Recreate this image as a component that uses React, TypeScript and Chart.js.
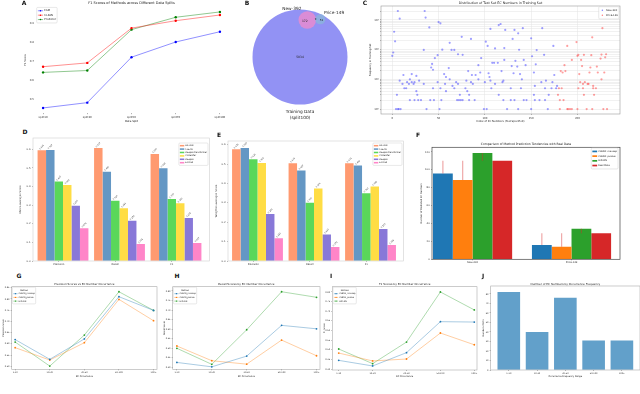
import React, { useEffect, useRef } from "react";
import { Chart, registerables } from "chart.js";

Chart.register(...registerables);

const FONT = "'DejaVu Sans', sans-serif";

// ---------------- DATA ----------------
// A
const splitLabels = ["split10", "split30", "split50", "split70", "split100"];
const aSeriesNames = ["ESM", "CLEAN", "Predictor"];
const aEsm = [0.453, 0.481, 0.72, 0.8, 0.854];
const aClean = [0.67, 0.69, 0.873, 0.912, 0.942];
const aPredictor = [0.64, 0.65, 0.865, 0.93, 0.958];

// B (Venn)
const vennNames = ["Training Data\n(split100)", "New-392", "Price-149"];
const vennTrainOnly = 5034;
const vennNewTrain = 172;
const vennAll = 9;
const vennPriceTrain = 51;

// C
const cNewIdx = [6, 35, 8, 36, 50, 52, 40, 2, 106, 115, 117, 75, 85, 3, 62, 101, 103, 1, 0, 54, 34, 64, 67, 71, 76, 49, 46, 111, 121, 96, 108, 110, 114, 43, 42, 61, 93, 12, 21, 26, 56, 58, 44, 82, 86, 90, 95, 104, 105, 118,
  8, 11, 16, 18, 19, 21, 23, 24, 29, 34, 49, 57, 62, 65, 69, 71, 80, 85, 87, 93, 100, 106, 111, 119,
  13, 15, 26, 44, 52, 58, 67, 79, 81, 107,
  5, 27, 73, 83, 115,
  19, 24, 28, 31, 41, 45, 53, 70, 72, 74, 76, 83, 89,
  4, 6, 7, 9, 37, 51, 99, 102,
  122, 132, 141, 162, 136, 130, 150, 137, 156, 174, 164, 151, 121, 133, 142, 129, 135, 144, 155, 131, 138, 153, 175, 140, 120, 161, 166, 173, 178, 154, 128, 139, 165, 172, 177,
  153, 169,
  120, 128, 132, 142, 145, 154, 159, 165,
  124, 136, 150, 168];
const cNewFreq = [2000, 2000, 1100, 1200, 850, 770, 560, 400, 500, 670, 730, 270, 230, 190, 170, 185, 133, 80, 62, 100, 98, 98, 98, 70, 67, 65, 52, 110, 113, 52, 36, 36, 36, 33, 25, 24, 30, 14, 15, 13, 15, 12, 21, 19, 14, 14, 17, 16, 12, 19,
  9, 7, 8, 7, 10, 8, 7, 8, 9, 7, 8, 7, 10, 6, 8, 7, 9, 8, 7, 10, 8, 9, 7, 8,
  5, 5, 4, 5, 5, 4, 5, 5, 4, 5,
  3, 3, 3, 3, 3,
  2, 2, 2, 2, 2, 2, 2, 2, 2, 2, 2, 2, 2,
  1, 1, 1, 1, 1, 1, 1, 1,
  460, 460, 530, 530, 355, 230, 240, 99, 97, 133, 67, 60, 45, 42, 45, 28, 27, 30, 32, 16, 15, 17, 14, 10, 9, 8, 9, 8, 6, 6, 5, 5, 5, 5, 5,
  3, 3,
  2, 2, 2, 2, 2, 2, 2, 2,
  1, 1, 1, 1];
const cPriceIdx = [227, 216, 189, 199, 226, 231, 201, 207, 215, 200, 194, 204, 225, 230, 186, 205, 214, 221, 182, 184, 187, 202, 213, 222, 229, 203, 206, 211, 212, 217, 226, 208, 180, 183, 201, 206, 217, 220, 179, 207, 218, 181, 185, 181, 189, 190, 192, 194, 200, 210, 216, 228, 232];
const cPriceFreq = [530, 260, 133, 180, 68, 70, 67, 67, 65, 62, 45, 45, 50, 55, 30, 28, 25, 27, 19, 17, 19, 15, 17, 17, 17, 8, 7, 7, 7, 6, 10, 8, 5, 5, 5, 5, 5, 5, 3, 3, 3, 2, 2, 1, 1, 1, 1, 1, 1, 1, 1, 1, 1];
const cSeriesNames = ["New-392", "Price-149"];

// D / E
const metricLabels = ["Precision", "Recall", "F1"];
const methodNames = ["HiFi-NN", "CLEAN", "DeepECtransformer", "ProteInfer", "DeepEC", "ECPred"];
const dHiFi = [0.595, 0.607, 0.575];
const dClean = [0.597, 0.48, 0.499];
const dDeepECT = [0.427, 0.324, 0.333];
const dProteInfer = [0.409, 0.283, 0.31];
const dDeepEC = [0.297, 0.216, 0.231];
const dECPred = [0.176, 0.091, 0.097];
const eHiFi = [0.576, 0.504, 0.504];
const eClean = [0.583, 0.467, 0.492];
const eDeepECT = [0.525, 0.3, 0.35];
const eProteInfer = [0.506, 0.374, 0.384];
const eDeepEC = [0.242, 0.137, 0.165];
const eECPred = [0.117, 0.072, 0.082];

// F
const fGroups = ["New-392", "Price-149"];
const fSeriesNames = ["CLEAN_maxsep", "CLEAN_pvalue", "HiFi-NN", "Real Data"];
const fMaxsep = [95.9, 16];
const fPvalue = [88.5, 14.1];
const fHiFi = [118.6, 34.2];
const fReal = [110, 29];

// G / H / I / J
const occLabels = ["1-10", "10-20", "20-50", "50-100", "100+"];
const occSeriesNames = ["CLEAN_maxsep", "CLEAN_pvalue", "HiFi-NN"];
const gMaxsep = [0.619, 0.531, 0.622, 0.81, 0.749];
const gPvalue = [0.583, 0.528, 0.605, 0.798, 0.703];
const gHiFi = [0.608, 0.501, 0.639, 0.832, 0.749];
const hMaxsep = [0.426, 0.403, 0.459, 0.62, 0.602];
const hPvalue = [0.512, 0.435, 0.417, 0.543, 0.461];
const hHiFi = [0.5, 0.416, 0.597, 0.796, 0.767];
const iMaxsep = [0.445, 0.416, 0.485, 0.646, 0.644];
const iPvalue = [0.483, 0.442, 0.452, 0.587, 0.526];
const iHiFi = [0.504, 0.428, 0.54, 0.8, 0.707];
const jCounts = [82, 40, 76, 31, 31];

// ---------------- HELPERS ----------------
type Box = { l: number; t: number; r: number; b: number };
type G = { left: number; top: number; width: number; height: number; ml: number; mt: number; mr: number; mb: number };

function geom(p: Box, m: Box): G {
  const left = Math.floor(p.l - m.l);
  const top = Math.floor(p.t - m.t);
  const right = Math.ceil(p.r + m.r);
  const bottom = Math.ceil(p.b + m.b);
  return { left, top, width: right - left, height: bottom - top, ml: p.l - left, mt: p.t - top, mr: right - p.r, mb: bottom - p.b };
}

function baseOpts(g: G, title?: { text: string; size: number; y: number }) {
  const plugins: any = { legend: { display: false }, tooltip: { enabled: false } };
  let padTop = 0;
  if (title) {
    const lh = title.size * 1.2;
    const pt = Math.max(0, title.y - g.top - lh / 2);
    const pb = Math.max(0, g.mt - pt - lh);
    plugins.title = {
      display: true, text: title.text, fullSize: false, color: "#222",
      font: { family: FONT, size: title.size, weight: "normal" }, padding: { top: pt, bottom: pb },
    };
  } else {
    padTop = g.mt;
    plugins.title = { display: false };
  }
  return {
    responsive: false, maintainAspectRatio: false, animation: false, devicePixelRatio: 1, events: [],
    layout: { autoPadding: false, padding: { left: 0, top: padTop, right: g.mr, bottom: 0 } },
    plugins,
  };
}

function axis(g: G, dir: "x" | "y", o: any) {
  const tl = o.tickLen ?? 0;
  const sc: any = {
    type: o.type ?? "linear", min: o.min, max: o.max, bounds: "data", offset: false,
    position: dir === "x" ? "bottom" : "left",
    afterBuildTicks: (s: any) => { s.ticks = o.ticks.map((v: number) => ({ value: v })); },
    afterFit: (s: any) => { if (dir === "x") s.height = g.mb; else s.width = g.ml; },
    ticks: {
      callback: (v: any) => o.fmt(Number(v)), font: { family: FONT, size: o.fs }, color: "#333",
      padding: o.tickPad ?? 1, autoSkip: false, maxRotation: 0, minRotation: 0,
    },
    grid: {
      display: true, offset: false, drawOnChartArea: !!o.grid, drawTicks: tl > 0, tickLength: tl,
      color: o.gridColor ?? "#e3e3e3", tickColor: "#666", lineWidth: 0.5, tickWidth: 0.5,
    },
    border: { display: false },
  };
  if (o.title) {
    const fs = o.titleFs ?? o.fs;
    const lh = fs * 1.2;
    const pad = dir === "x"
      ? { top: 0, bottom: Math.max(0, g.top + g.height - o.titleAt - lh / 2) }
      : { top: Math.max(0, o.titleAt - g.left - lh / 2), bottom: 0 };
    sc.title = { display: true, text: o.title, color: "#222", font: { family: FONT, size: fs }, padding: pad };
  }
  return sc;
}

const range = (a: number, b: number, s: number) => {
  const out: number[] = [];
  for (let v = a; v <= b + 1e-9; v += s) out.push(Math.round(v * 1000) / 1000);
  return out;
};

function framePlugin(color: string, lw = 0.6) {
  return {
    id: "frame",
    afterDraw(chart: any) {
      const { ctx, chartArea: a } = chart;
      ctx.save();
      ctx.strokeStyle = color;
      ctx.lineWidth = lw;
      ctx.strokeRect(a.left, a.top, a.right - a.left, a.bottom - a.top);
      ctx.restore();
    },
  };
}

function legendPlugin(o: { corner: "tl" | "tr"; dx: number; dy: number; fs: number; row: number; kind: "rect" | "line" | "point"; title?: string }) {
  return {
    id: "mplLegend",
    afterDraw(chart: any) {
      const { ctx, chartArea: a } = chart;
      const items = chart.data.datasets.filter((d: any) => d.label).map((d: any) => ({ label: d.label, color: d.legendColor || d.backgroundColor, line: d.borderColor }));
      ctx.save();
      ctx.font = `${o.fs}px ${FONT}`;
      const sw = o.fs * 2;
      const gap = o.fs * 0.5;
      const pad = o.fs * 0.45;
      const tw = Math.max(...items.map((i: any) => ctx.measureText(i.label).width));
      const titleW = o.title ? ctx.measureText(o.title).width : 0;
      const innerW = Math.max(sw + gap + tw, titleW);
      const w = innerW + pad * 2;
      const rows = items.length + (o.title ? 1 : 0);
      const h = rows * o.row + pad * 2;
      const x0 = o.corner === "tr" ? a.right - o.dx - w : a.left + o.dx;
      const y0 = a.top + o.dy;
      ctx.beginPath();
      if (ctx.roundRect) ctx.roundRect(x0, y0, w, h, 1); else ctx.rect(x0, y0, w, h);
      ctx.fillStyle = "rgba(255,255,255,0.85)";
      ctx.fill();
      ctx.strokeStyle = "#d0d0d0";
      ctx.lineWidth = 0.5;
      ctx.stroke();
      ctx.textBaseline = "middle";
      let y = y0 + pad + o.row / 2;
      if (o.title) {
        ctx.fillStyle = "#222";
        ctx.textAlign = "center";
        ctx.fillText(o.title, x0 + w / 2, y);
        y += o.row;
      }
      ctx.textAlign = "left";
      items.forEach((it: any) => {
        const sx = x0 + pad;
        if (o.kind === "rect") {
          ctx.fillStyle = it.color;
          ctx.fillRect(sx, y - o.fs * 0.35, sw, o.fs * 0.7);
        } else {
          if (o.kind === "line") {
            ctx.strokeStyle = it.line;
            ctx.lineWidth = 0.8;
            ctx.beginPath();
            ctx.moveTo(sx, y);
            ctx.lineTo(sx + sw, y);
            ctx.stroke();
          }
          ctx.fillStyle = it.color;
          ctx.beginPath();
          ctx.arc(sx + sw / 2, y, o.fs * 0.3, 0, Math.PI * 2);
          ctx.fill();
        }
        ctx.fillStyle = "#222";
        ctx.fillText(it.label, sx + sw + gap, y);
        y += o.row;
      });
      ctx.restore();
    },
  };
}

function barLabelPlugin(fs: number) {
  return {
    id: "barLabels",
    afterDatasetsDraw(chart: any) {
      const ctx = chart.ctx;
      ctx.save();
      ctx.font = `${fs}px ${FONT}`;
      ctx.fillStyle = "#333";
      ctx.textAlign = "center";
      ctx.textBaseline = "middle";
      chart.data.datasets.forEach((ds: any, di: number) => {
        chart.getDatasetMeta(di).data.forEach((el: any, i: number) => {
          const text = Number(ds.data[i].y).toFixed(3);
          const L = ctx.measureText(text).width;
          const half = ((L + fs) * Math.SQRT1_2) / 2;
          ctx.save();
          ctx.translate(el.x, el.y - 0.3 - half);
          ctx.rotate(-Math.PI / 4);
          ctx.fillText(text, 0, 0);
          ctx.restore();
        });
      });
      ctx.restore();
    },
  };
}

const realGapPlugin = {
  id: "realGap",
  afterDatasetsDraw(chart: any) {
    const ctx = chart.ctx;
    const ys = chart.scales.y;
    ctx.save();
    ctx.strokeStyle = "rgba(214,39,40,0.4)";
    ctx.lineWidth = 1.2;
    [0, 1, 2].forEach((di) =>
      chart.getDatasetMeta(di).data.forEach((el: any, i: number) => {
        ctx.beginPath();
        ctx.moveTo(el.x, el.y);
        ctx.lineTo(el.x, ys.getPixelForValue(fReal[i]));
        ctx.stroke();
      })
    );
    ctx.restore();
  },
};

function lineDs(label: string, values: number[], line: string, point: string, r = 1.2, bw = 0.8) {
  return {
    label, data: values.map((y, i) => ({ x: i, y })), borderColor: line, backgroundColor: point,
    pointBackgroundColor: point, pointBorderWidth: 0, pointRadius: r, borderWidth: bw, legendColor: point, tension: 0,
  };
}

function groupedBars(names: string[], arrays: number[][], colors: string[], catPct: number) {
  return arrays.map((arr, j) => ({
    label: names[j], data: arr.map((y, i) => ({ x: i, y })), backgroundColor: colors[j], legendColor: colors[j],
    categoryPercentage: catPct, barPercentage: 1, borderWidth: 0,
  }));
}

// ---------------- PANELS ----------------
const gA = geom({ l: 36, t: 7.2, r: 227, b: 112.7 }, { l: 15, t: 7.2, r: 3, b: 12 });
const gB: G = { left: 240, top: 0, width: 130, height: 126, ml: 0, mt: 0, mr: 0, mb: 0 };
const gC = geom({ l: 381, t: 6, r: 620, b: 114 }, { l: 14, t: 6, r: 2, b: 11 });
const gD = geom({ l: 33, t: 138, r: 209.5, b: 261 }, { l: 15, t: 3, r: 2, b: 6 });
const gE = geom({ l: 228, t: 141, r: 403.3, b: 261 }, { l: 15, t: 4, r: 2, b: 6 });
const gF = geom({ l: 432, t: 147.3, r: 620, b: 259.3 }, { l: 13, t: 6, r: 2, b: 6 });
const gG = geom({ l: 11.7, t: 286.7, r: 157, b: 369.3 }, { l: 11.7, t: 5.7, r: 2, b: 10 });
const gH = geom({ l: 172.7, t: 286.7, r: 320, b: 369.3 }, { l: 11, t: 5.7, r: 2, b: 10 });
const gI = geom({ l: 332.3, t: 286.7, r: 477, b: 370 }, { l: 11, t: 5.7, r: 2, b: 10 });
const gJ = geom({ l: 490.7, t: 286, r: 640, b: 370 }, { l: 10, t: 5, r: 0, b: 10 });

const VENN_PX = 0.6546; // pixels per venn unit
const vennCenter = { x: 60, y: 57 }; // big circle centre inside panel B canvas
const vennLayout = [[0, 0], [11.15, 56.5], [31.0, 57.6]];
const vennColors = ["rgba(146,146,244,1)", "rgba(218,140,214,1)", "rgba(140,176,222,0.95)"];
const methodColors = ["#ff9a70", "#6497c4", "#5ad75a", "#ffdd44", "#8878d8", "#ff85c8"];
const tab = ["#1f77b4", "#ff7f0e", "#2ca02c", "#d62728"];
const tabA = ["rgba(31,119,180,0.55)", "rgba(255,127,14,0.55)", "rgba(44,160,44,0.55)"];

const vennTextPlugin = {
  id: "vennText",
  afterDatasetsDraw(chart: any) {
    const ctx = chart.ctx;
    const [big, nw, pr] = chart.getDatasetMeta(0).data;
    const rB = big.options.radius, rN = nw.options.radius, rP = pr.options.radius;
    const put = (t: string, x: number, y: number, fs: number) => {
      ctx.font = `${fs}px ${FONT}`;
      ctx.fillText(t, x, y);
    };
    ctx.save();
    ctx.fillStyle = "#222";
    ctx.textAlign = "center";
    ctx.textBaseline = "middle";
    put(String(vennTrainOnly), big.x, big.y + 0.5, 3);
    put(String(vennNewTrain), nw.x - 2.5, nw.y + 0.8, 3);
    put(String(vennAll), (nw.x + rN + pr.x - rP) / 2, pr.y + 0.5, 2.6);
    put(String(vennPriceTrain), pr.x + 1.3, pr.y + 0.8, 2.8);
    put(vennNames[1], nw.x - 15.5, nw.y - 10.7, 4.3);
    put(vennNames[2], pr.x + 13.7, pr.y - 6.6, 4.3);
    const lines = vennNames[0].split("\n");
    lines.forEach((ln, k) => put(ln, big.x, big.y + rB + 7 + k * 6, 4.3));
    ctx.restore();
  },
};

const vennTotals = [vennTrainOnly + vennNewTrain + vennAll + vennPriceTrain, vennNewTrain + vennAll, vennPriceTrain + vennAll];

const PANELS: { key: string; g: G; config: () => any }[] = [
  {
    key: "A", g: gA,
    config: () => ({
      type: "line",
      data: {
        datasets: [
          lineDs(aSeriesNames[0], aEsm, "rgba(0,0,255,0.55)", "#0000ff"),
          lineDs(aSeriesNames[1], aClean, "rgba(255,0,0,0.55)", "#ff0000"),
          lineDs(aSeriesNames[2], aPredictor, "rgba(0,128,0,0.55)", "#008000"),
        ],
      },
      options: {
        ...baseOpts(gA, { text: "F1 Scores of Methods across Different Data Splits", size: 3.5, y: 3.3 }),
        scales: {
          x: axis(gA, "x", { min: -0.16, max: 4.16, ticks: [0, 1, 2, 3, 4], fmt: (v: number) => splitLabels[v] ?? "", fs: 2.7, tickLen: 1.5, tickPad: 1.8, title: "Data Split", titleAt: 121.7 }),
          y: axis(gA, "y", { min: 0.428, max: 0.983, ticks: [0.5, 0.6, 0.7, 0.8, 0.9], fmt: (v: number) => v.toFixed(1), fs: 2.7, tickPad: 2, title: "F1 Score", titleAt: 25.5 }),
        },
      },
      plugins: [legendPlugin({ corner: "tl", dx: 0.7, dy: 0.2, fs: 2.6, row: 4.4, kind: "line" })],
    }),
  },
  {
    key: "B", g: gB,
    config: () => ({
      type: "bubble",
      data: {
        datasets: [{
          data: vennLayout.map(([x, y], i) => ({ x, y, r: Math.sqrt(vennTotals[i]) * VENN_PX })),
          backgroundColor: vennColors, borderWidth: 0, clip: false,
        }],
      },
      options: {
        ...baseOpts(gB),
        scales: {
          x: { type: "linear", display: false, bounds: "data", offset: false, min: -vennCenter.x / VENN_PX, max: (gB.width - vennCenter.x) / VENN_PX },
          y: { type: "linear", display: false, bounds: "data", offset: false, min: -(gB.height - vennCenter.y) / VENN_PX, max: vennCenter.y / VENN_PX },
        },
      },
      plugins: [vennTextPlugin],
    }),
  },
  {
    key: "C", g: gC,
    config: () => ({
      type: "scatter",
      data: {
        datasets: [
          { label: cSeriesNames[0], data: cNewIdx.map((x, i) => ({ x, y: cNewFreq[i] })), backgroundColor: "rgba(40,40,255,0.45)", legendColor: "rgba(40,40,255,0.6)", pointRadius: 1.1, borderWidth: 0 },
          { label: cSeriesNames[1], data: cPriceIdx.map((x, i) => ({ x, y: cPriceFreq[i] })), backgroundColor: "rgba(255,40,40,0.45)", legendColor: "rgba(255,40,40,0.6)", pointRadius: 1.1, borderWidth: 0 },
        ],
      },
      options: {
        ...baseOpts(gC, { text: "Distribution of Test Set EC Numbers in Training Set", size: 3.3, y: 2.8 }),
        scales: {
          x: axis(gC, "x", { min: -12.2, max: 246, ticks: [0, 50, 100, 150, 200], fmt: (v: number) => String(v), fs: 2.6, tickLen: 1, tickPad: 1.3, grid: true, title: "Index of EC Numbers (Test Specified)", titleAt: 121.7 }),
          y: axis(gC, "y", {
            type: "logarithmic", min: 0.68, max: 2950,
            ticks: [1, 2, 3, 4, 5, 6, 7, 8, 9, 10, 20, 30, 40, 50, 60, 70, 80, 90, 100, 200, 300, 400, 500, 600, 700, 800, 900, 1000, 2000],
            fmt: (v: number) => (({ 1: "10⁰", 10: "10¹", 100: "10²", 1000: "10³" } as any)[v] ?? ""),
            fs: 2.6, tickLen: 1, tickPad: 1.3, grid: true, title: "Frequency in Training Set", titleAt: 370,
          }),
        },
      },
      plugins: [framePlugin("#999"), legendPlugin({ corner: "tr", dx: 1, dy: 0.7, fs: 2.5, row: 5, kind: "point" })],
    }),
  },
  {
    key: "D", g: gD,
    config: () => ({
      type: "bar",
      data: { datasets: groupedBars(methodNames, [dHiFi, dClean, dDeepECT, dProteInfer, dDeepEC, dECPred], methodColors, 0.9) },
      options: {
        ...baseOpts(gD),
        scales: {
          x: axis(gD, "x", { min: -0.531, max: 2.593, ticks: [-0.075, 0.925, 1.925], fmt: (v: number) => metricLabels[Math.round(v + 0.075)] ?? "", fs: 2.5, tickLen: 1, tickPad: 1 }),
          y: axis(gD, "y", { min: 0, max: 0.661, ticks: range(0, 0.6, 0.1), fmt: (v: number) => v.toFixed(1), fs: 2.5, tickLen: 1, tickPad: 1.5, title: "Macro-averaged Score", titleFs: 2.5, titleAt: 20 }),
        },
      },
      plugins: [barLabelPlugin(2.1), framePlugin("#cfcfcf"), legendPlugin({ corner: "tr", dx: 1.5, dy: 5, fs: 2.2, row: 3.4, kind: "rect" })],
    }),
  },
  {
    key: "E", g: gE,
    config: () => ({
      type: "bar",
      data: { datasets: groupedBars(methodNames, [eHiFi, eClean, eDeepECT, eProteInfer, eDeepEC, eECPred], methodColors, 0.9) },
      options: {
        ...baseOpts(gE),
        scales: {
          x: axis(gE, "x", { min: -0.522, max: 2.58, ticks: [-0.075, 0.925, 1.925], fmt: (v: number) => metricLabels[Math.round(v + 0.075)] ?? "", fs: 2.5, tickLen: 1, tickPad: 1 }),
          y: axis(gE, "y", { min: 0, max: 0.619, ticks: range(0, 0.6, 0.1), fmt: (v: number) => v.toFixed(1), fs: 2.5, tickLen: 1, tickPad: 1.5, title: "Weighted-averaged Score", titleFs: 2.5, titleAt: 216 }),
        },
      },
      plugins: [barLabelPlugin(2.1), framePlugin("#cfcfcf"), legendPlugin({ corner: "tr", dx: 1.3, dy: 2, fs: 2.2, row: 3.4, kind: "rect" })],
    }),
  },
  {
    key: "F", g: gF,
    config: () => ({
      type: "bar",
      data: { datasets: groupedBars(fSeriesNames, [fMaxsep, fPvalue, fHiFi, fReal], tab, 0.8) },
      options: {
        ...baseOpts(gF, { text: "Comparison of Method Prediction Tendencies with Real Data", size: 3, y: 144 }),
        scales: {
          x: axis(gF, "x", { min: -0.41, max: 1.49, ticks: [0, 1], fmt: (v: number) => fGroups[v] ?? "", fs: 2.5, tickLen: 1, tickPad: 1 }),
          y: axis(gF, "y", { min: 0, max: 125.1, ticks: range(0, 120, 20), fmt: (v: number) => String(v), fs: 2.5, tickLen: 1, tickPad: 1.2, title: "Number of Predicted EC Numbers", titleFs: 2.4, titleAt: 421.3 }),
        },
      },
      plugins: [realGapPlugin, framePlugin("#444", 0.7), legendPlugin({ corner: "tr", dx: 2, dy: 0.7, fs: 2.4, row: 4.7, kind: "rect" })],
    }),
  },
  ...([
    ["G", gG, [gMaxsep, gPvalue, gHiFi], "Precision Scores vs EC Number Occurrence", -0.1, 4.1, 0.4866, 0.8545, range(0.5, 0.85, 0.05), "Precision Score", 3],
    ["H", gH, [hMaxsep, hPvalue, hHiFi], "Recall Scores by EC Number Occurrence", -0.12, 4.1, 0.39, 0.8225, range(0.4, 0.8, 0.05), "Recall Score", 164],
    ["I", gI, [iMaxsep, iPvalue, iHiFi], "F1 Scores by EC Number Occurrence", -0.19, 4.08, 0.395, 0.8275, range(0.4, 0.8, 0.05), "F1 Score", 324],
  ] as any[]).map(([key, g, arrs, title, xmin, xmax, ymin, ymax, yt, ylab, ylabAt]) => ({
    key, g,
    config: () => ({
      type: "line",
      data: { datasets: arrs.map((a: number[], k: number) => lineDs(occSeriesNames[k], a, tabA[k], tab[k], 0.9, 0.7)) },
      options: {
        ...baseOpts(g, { text: title, size: 2.8, y: 284.5 }),
        scales: {
          x: axis(g, "x", { min: xmin, max: xmax, ticks: [0, 1, 2, 3, 4], fmt: (v: number) => occLabels[v] ?? "", fs: 2.2, tickLen: 1, tickPad: 1.2, title: "EC Occurrence", titleFs: 2.3, titleAt: 376.7 }),
          y: axis(g, "y", { min: ymin, max: ymax, ticks: yt, fmt: (v: number) => v.toFixed(2), fs: 2.2, tickLen: 1, tickPad: 1.2, title: ylab, titleFs: 2.3, titleAt: ylabAt }),
        },
      },
      plugins: [framePlugin("#aaa"), legendPlugin({ corner: "tl", dx: 0.7, dy: 0.5, fs: 2.1, row: 3.7, kind: "line", title: "Method" })],
    }),
  })),
  {
    key: "J", g: gJ,
    config: () => ({
      type: "bar",
      data: { datasets: [{ data: jCounts.map((y, i) => ({ x: i, y })), backgroundColor: "rgba(31,119,180,0.7)", categoryPercentage: 1, barPercentage: 0.8, borderWidth: 0 }] },
      options: {
        ...baseOpts(gJ, { text: "Number of EC Numbers by Occurrence Frequency", size: 2.8, y: 284 }),
        scales: {
          x: axis(gJ, "x", { min: -0.64, max: 4.64, ticks: [0, 1, 2, 3, 4], fmt: (v: number) => occLabels[v] ?? "", fs: 2.2, tickLen: 1, tickPad: 1.2, title: "Occurrence Frequency Range", titleFs: 2.3, titleAt: 376.7 }),
          y: axis(gJ, "y", { min: 0, max: 88.4, ticks: range(0, 80, 10), fmt: (v: number) => String(v), fs: 2.2, tickLen: 1, tickPad: 1.2, title: "Number of ECs", titleFs: 2.3, titleAt: 483 }),
        },
      },
      plugins: [framePlugin("#aaa")],
    }),
  },
];

const panelLetters: [string, number, number][] = [
  ["A", 24, 3], ["B", 247, 2.5], ["C", 365, 2.5], ["D", 25, 132], ["E", 219, 135], ["F", 418, 135],
  ["G", 19, 276], ["H", 177, 276], ["I", 331, 276], ["J", 483, 276],
];

export default function App() {
  const refs = useRef<(HTMLCanvasElement | null)[]>([]);
  useEffect(() => {
    const charts = PANELS.map((p, i) => new Chart(refs.current[i] as HTMLCanvasElement, p.config()));
    return () => charts.forEach((c) => c.destroy());
  }, []);
  return (
    <div style={{ position: "fixed", left: 0, top: 0, width: 640, height: 394, overflow: "hidden", background: "#fff", fontFamily: FONT }}>
      {PANELS.map((p, i) => (
        <canvas
          key={p.key}
          ref={(el) => { refs.current[i] = el; }}
          width={p.g.width}
          height={p.g.height}
          style={{ position: "absolute", left: p.g.left, top: p.g.top, width: p.g.width, height: p.g.height }}
        />
      ))}
      {panelLetters.map(([t, x, y]) => (
        <div key={t} style={{ position: "absolute", left: x, top: y, transform: "translate(-50%, -50%)", fontWeight: "bold", fontSize: 6, lineHeight: 1, color: "#111" }}>
          {t}
        </div>
      ))}
    </div>
  );
}
